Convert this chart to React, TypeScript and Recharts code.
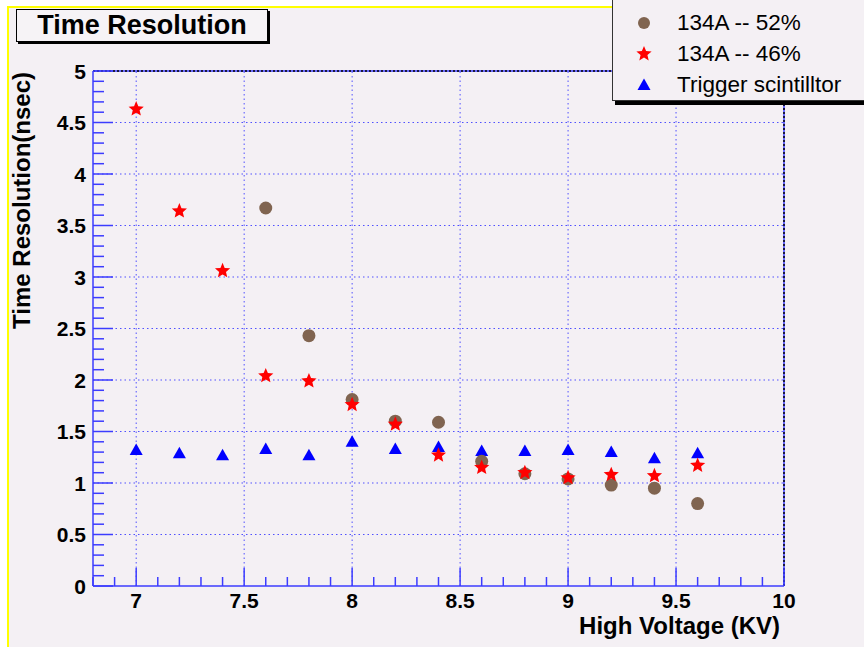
import React from 'react';
import { ScatterChart, Scatter, XAxis, YAxis, ReferenceLine } from 'recharts';

// high voltage settings (KV)
const voltsA = [7.6, 7.8, 8.0, 8.2, 8.4, 8.6, 8.8, 9.0, 9.2, 9.4, 9.6];
const volts = [7.0, 7.2, 7.4, 7.6, 7.8, 8.0, 8.2, 8.4, 8.6, 8.8, 9.0, 9.2, 9.4, 9.6];

// time resolution (nsec)
const res52 = [3.67, 2.43, 1.81, 1.6, 1.59, 1.21, 1.09, 1.04, 0.98, 0.95, 0.8];
const res46 = [4.63, 3.64, 3.06, 2.04, 1.99, 1.76, 1.57, 1.27, 1.15, 1.1, 1.05, 1.08, 1.07, 1.17];
const resTrig = [1.32, 1.29, 1.27, 1.33, 1.27, 1.4, 1.33, 1.35, 1.31, 1.31, 1.32, 1.3, 1.24, 1.29];

const xGrid = [7, 7.5, 8, 8.5, 9, 9.5];
const yGrid = [0.5, 1, 1.5, 2, 2.5, 3, 3.5, 4, 4.5];
const xDomain = [6.8, 10];
const yDomain = [0, 5];

const minorTicks = (lo: number, hi: number) => {
  const out: number[] = [];
  for (let k = Math.round(lo * 10); k <= Math.round(hi * 10); k++) out.push(k / 10);
  return out;
};
const xTicks = minorTicks(6.8, 10);
const yTicks = minorTicks(0, 5);
const isMajor = (v: number) => Math.abs(v * 2 - Math.round(v * 2)) < 1e-6;

const pts = (xs: number[], ys: number[]) => xs.map((x, i) => ({ x, y: ys[i] }));

const AXIS = '#3c3cff';
const GRID = '#5050ff';
const BROWN = '#806450';
const FONT = '"Liberation Sans", Arial, sans-serif';

const starPath = (cx: number, cy: number, ro: number, ri: number) => {
  let d = '';
  for (let i = 0; i < 10; i++) {
    const r = i % 2 === 0 ? ro : ri;
    const a = -Math.PI / 2 + (i * Math.PI) / 5;
    d += (i === 0 ? 'M' : 'L') + (cx + r * Math.cos(a)).toFixed(2) + ',' + (cy + r * Math.sin(a)).toFixed(2);
  }
  return d + 'Z';
};

const Dot = (p: any) => <circle cx={p.cx} cy={p.cy} r={6.5} fill={BROWN} />;
const Star = (p: any) => <path d={starPath(p.cx, p.cy, 8, 3.6)} fill="#ff0000" />;
const Tri = (p: any) => (
  <polygon points={`${p.cx},${p.cy - 6.5} ${p.cx - 6.5},${p.cy + 5} ${p.cx + 6.5},${p.cy + 5}`} fill="#0000ff" />
);

const YTick = (p: any) => {
  const v = p.payload.value;
  const major = isMajor(v);
  const ax = p.x + 7;
  return (
    <g>
      <line x1={ax} x2={ax + (major ? 20 : 11)} y1={p.y} y2={p.y} stroke={AXIS} strokeWidth={1.5} />
      {major && (
        <text x={p.x} y={p.y + 7.5} textAnchor="end" fontFamily={FONT} fontWeight="bold" fontSize={21} fill="#000">
          {String(v)}
        </text>
      )}
    </g>
  );
};

const XTick = (p: any) => {
  const v = p.payload.value;
  const major = isMajor(v);
  return (
    <g>
      <line x1={p.x} x2={p.x} y1={p.y} y2={p.y - (major ? 18 : 9)} stroke={AXIS} strokeWidth={1.5} />
      {major && v >= 7 && (
        <text x={p.x} y={p.y + 22} textAnchor="middle" fontFamily={FONT} fontWeight="bold" fontSize={21} fill="#000">
          {String(v)}
        </text>
      )}
    </g>
  );
};

const legendRows = [
  { label: '134A -- 52%', mark: 'dot' },
  { label: '134A -- 46%', mark: 'star' },
  { label: 'Trigger scintilltor', mark: 'tri' },
];

export default function App() {
  return (
    <div style={{ position: 'absolute', left: 0, top: 0, width: 864, height: 647, background: '#fff', overflow: 'hidden', fontFamily: FONT }}>
      <div style={{ position: 'absolute', left: 7, top: 6, right: 0, bottom: 0, background: '#f4f0f4', borderLeft: '2px solid #ffff00', borderTop: '2px solid #ffff00' }} />
      <div style={{ position: 'absolute', left: 0, top: 0 }}>
        <ScatterChart width={864} height={647} margin={{ top: 71, right: 80, bottom: 21, left: 0 }}>
          <XAxis
            type="number"
            dataKey="x"
            domain={xDomain}
            ticks={xTicks}
            interval={0}
            tickSize={0}
            tickMargin={0}
            tickLine={false}
            height={40}
            axisLine={{ stroke: AXIS, strokeWidth: 1.5 }}
            tick={<XTick />}
          />
          <YAxis
            type="number"
            dataKey="y"
            domain={yDomain}
            ticks={yTicks}
            interval={0}
            tickSize={0}
            tickMargin={7}
            tickLine={false}
            width={93}
            axisLine={{ stroke: AXIS, strokeWidth: 1.5 }}
            tick={<YTick />}
          />
          {xGrid.map(v => (
            <ReferenceLine key={'gx' + v} x={v} stroke={GRID} strokeDasharray="1.5 3" strokeWidth={1} />
          ))}
          {yGrid.map(v => (
            <ReferenceLine key={'gy' + v} y={v} stroke={GRID} strokeDasharray="1.5 3" strokeWidth={1} />
          ))}
          <ReferenceLine y={5} stroke={AXIS} strokeWidth={1.5} />
          <ReferenceLine y={5} stroke="#000" strokeDasharray="2 2" strokeWidth={1.5} />
          <ReferenceLine x={10} stroke={AXIS} strokeWidth={1.5} />
          <ReferenceLine x={10} stroke="#000" strokeDasharray="2 2" strokeWidth={1.5} />
          <Scatter data={pts(volts, resTrig)} shape={Tri} isAnimationActive={false} />
          <Scatter data={pts(voltsA, res52)} shape={Dot} isAnimationActive={false} />
          <Scatter data={pts(volts, res46)} shape={Star} isAnimationActive={false} />
        </ScatterChart>
      </div>

      {/* title box */}
      <div style={{ position: 'absolute', left: 16, top: 9, width: 250, height: 31, border: '1px solid #000', boxShadow: '2px 2px 0 #000', background: '#f6f3f6', textAlign: 'center', lineHeight: '31px', fontWeight: 'bold', fontSize: 27 }}>
        Time Resolution
      </div>

      {/* legend */}
      <div style={{ position: 'absolute', left: 612, top: -2, width: 252, height: 102, borderLeft: '1px solid #333', borderBottom: '1px solid #333', boxShadow: '3px 4px 0 #000', background: '#f4f0f4' }}>
        {legendRows.map((r, i) => (
          <div key={r.label} style={{ position: 'absolute', left: 0, top: 10 + i * 31, height: 30, width: 252, display: 'flex', alignItems: 'center' }}>
            <svg width={60} height={30} style={{ flex: 'none' }}>
              {r.mark === 'dot' && <circle cx={31} cy={15} r={6} fill={BROWN} />}
              {r.mark === 'star' && <path d={starPath(31, 15, 8, 3.6)} fill="#ff0000" />}
              {r.mark === 'tri' && <polygon points="31,8.5 24.5,20 37.5,20" fill="#0000ff" />}
            </svg>
            <span style={{ fontSize: 22.5, marginLeft: 4, color: '#000', whiteSpace: 'nowrap' }}>{r.label}</span>
          </div>
        ))}
      </div>

      {/* axis titles */}
      <div style={{ position: 'absolute', right: 84, top: 612, fontWeight: 'bold', fontSize: 24, whiteSpace: 'nowrap' }}>High Voltage (KV)</div>
      <div style={{ position: 'absolute', left: 9, top: 72, width: 0, height: 0 }}>
        <div style={{ position: 'absolute', right: 0, top: 0, transform: 'rotate(-90deg)', transformOrigin: 'right top', fontWeight: 'bold', fontSize: 24, whiteSpace: 'nowrap', lineHeight: '26px' }}>
          Time Resolution(nsec)
        </div>
      </div>
    </div>
  );
}
